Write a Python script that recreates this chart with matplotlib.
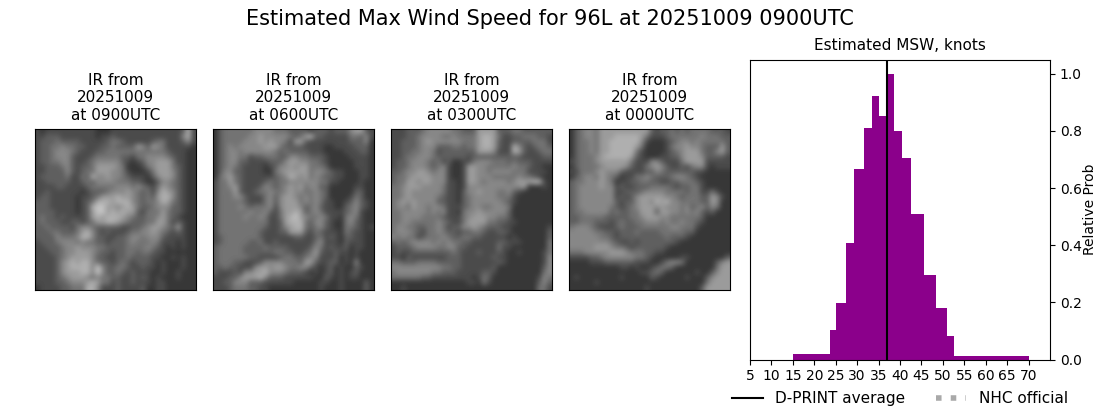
#! /usr/bin/env python

# estimated max wind speed histogram, next to four IR thumbnails

import numpy as np
import matplotlib
matplotlib.use('Agg')
import matplotlib.pyplot as plt

# IR brightness, one digit per cell (0 dark, 9 bright)
ir_0900 = [
    "2122 2222 2222 1112 2222 2222 2222 2372", "2233 3222 2222 1223 2222 2222 2222 2572",
    "2333 4333 3222 2234 4322 2223 4422 2352", "2334 4544 3322 2334 3333 6536 5422 2221",
    "2334 5554 3222 3344 4444 4444 4432 2211", "2334 5553 2223 4444 4332 4455 5543 2211",
    "2334 4553 2234 5555 5321 2355 6664 2211", "2233 3453 2334 6666 5411 1245 6664 3211",
    "2233 3353 2344 6665 5421 1124 6665 3211", "2333 3342 2437 5565 5432 2213 5665 3211",
    "2233 3332 2343 5555 4443 3211 3554 3211", "2222 3322 2234 4444 5554 5432 4654 3211",
    "2232 2222 2123 3345 5565 4342 5765 3211", "2332 2222 1223 4666 7665 4343 6775 3211",
    "3332 2222 1234 7776 7775 4344 5764 3211", "3332 2222 1237 8866 5676 4334 5553 3211",
    "3333 2222 1236 8867 6766 3244 4643 3211", "3433 2322 2236 7677 7654 3344 5643 2111",
    "3433 3223 3234 6677 6543 3344 6642 3211", "3343 3332 4554 3333 3223 3456 6543 6211",
    "3334 4333 4675 3232 2234 4556 5432 3211", "3333 5444 5775 3322 3345 5455 5322 2211",
    "2333 4555 4544 3323 3345 4445 4222 1211", "2233 3455 6555 4433 3344 4454 3212 1211",
    "2223 3455 6665 4332 3344 3443 2211 1111", "2222 3456 6665 3322 3343 3332 2112 1211",
    "2222 3567 6775 4332 3432 3332 1211 1211", "2222 3567 7775 8533 4432 2322 1211 1211",
    "2222 3566 6775 8533 4323 2221 1211 2111", "2222 3456 6654 5443 3223 2321 2111 2111",
    "2222 3345 5567 6442 3223 2221 2211 1111", "1222 2334 4477 5222 3222 2311 2211 1111"]
ir_0600 = [
    "1344 4444 5555 4443 3332 3332 3335 6632", "1344 4445 5655 5554 3467 3322 2224 4352",
    "1344 4455 5656 5542 6632 2222 2223 3351", "1345 4555 5566 6433 3322 2211 2222 3331",
    "1345 5455 5555 4343 3332 2211 1122 2331", "1345 5442 3344 4335 5443 3321 1112 2221",
    "1345 5332 2223 3356 6554 4321 1111 2221", "1345 4322 2212 3556 5664 4431 1111 2221",
    "1355 3322 2211 4566 6664 5543 2211 1221", "1456 4322 2222 3457 6564 5433 2211 1221",
    "2446 4322 2234 3445 5555 5442 2111 1211", "2445 6322 2354 3456 5645 5331 1111 2211",
    "2444 6322 3445 4456 5544 5431 1111 3311", "2444 5532 2245 3566 5454 5431 1112 4311",
    "2444 4432 2245 3566 6454 5422 1123 5321", "2444 4543 4445 2566 6534 5322 1134 5321",
    "2444 4445 4453 2466 7634 5422 2234 5211", "2444 4454 4542 2467 8654 4542 2145 4211",
    "2444 4444 4442 2367 7743 5532 1145 3211", "2444 4444 4432 2356 7743 4532 1144 3212",
    "2444 4444 4322 2336 6632 4322 2143 2211", "2344 4444 4322 2222 3322 3423 2133 2211",
    "2344 4443 3422 3222 2222 4522 2132 2211", "3444 4433 3343 3332 2223 5423 2231 2211",
    "3444 4433 3333 4433 2234 6322 3221 2111", "3444 4443 3222 2344 3345 5222 3121 2111",
    "3444 3322 2355 5544 4366 3223 3121 5111", "3343 3222 5665 6654 4553 2123 1211 3211",
    "3222 3255 6675 5543 3321 2123 1212 3111", "2223 3566 6753 3322 2222 1132 1212 2111",
    "2233 5553 3322 2222 1111 1221 1211 1131", "2223 4443 3221 1111 1111 1211 1211 1131"]
ir_0300 = [
    "2223 3345 5555 4433 3666 6333 4433 3333", "2223 3455 5544 5444 4677 6422 3344 4332",
    "2233 3456 5555 5544 4677 6322 3333 4442", "2233 3455 5333 4434 4677 6322 7532 3443",
    "2233 4455 4233 3333 3666 5222 7632 2344", "2234 4555 4333 3332 3333 3333 3322 2233",
    "2334 5554 3423 1122 4555 4443 4333 2222", "2334 5554 3452 1126 6554 4444 5443 2211",
    "3345 5665 4552 1126 6554 5555 4442 2221", "3445 6666 5552 1126 6555 4444 4544 3211",
    "3446 6566 5552 2126 6545 5554 5666 7721", "4456 6655 5542 2125 5555 5555 5561 1121",
    "4456 5555 5542 2135 5655 5445 3211 1111", "4456 5555 5432 2134 5555 5444 2111 1111",
    "4565 6555 5332 2134 5555 5543 2111 1111", "4554 6554 5542 2234 5544 5554 1111 1111",
    "4455 5554 5452 2145 5655 5553 1111 1111", "4455 5544 4432 2245 6665 5443 1111 1111",
    "4455 4444 4543 2246 6664 4332 2111 1111", "4554 4334 4542 3355 6543 3322 1111 1112",
    "4555 4324 4543 3233 4432 2332 1111 1113", "5454 4234 4454 3344 3322 2221 2111 1113",
    "3434 5555 4545 4433 2222 2332 2211 1114", "2333 4555 5445 5332 2222 2422 1111 1114",
    "2322 3333 3333 4322 2322 2321 1211 1124", "2213 2222 2223 3322 2222 3221 1111 1125",
    "4433 3444 4333 3322 2222 2321 1111 1125", "5555 5555 5544 3322 2222 3111 1111 1135",
    "4555 5555 4433 3222 2233 2111 1111 1145", "4444 4433 2222 2222 1243 1111 1111 1254",
    "1111 1111 1111 1112 2142 1111 1111 1353", "1121 1111 1111 1111 1111 1111 1111 1442"]
ir_0000 = [
    "1345 5466 6666 6666 3233 4343 4444 3332", "1345 5466 6777 7764 2223 4444 4454 4433",
    "1344 5466 7777 7752 1112 3455 4544 4443", "1344 5466 7777 7641 1112 4556 5543 3363",
    "1344 5466 7777 7421 1112 3456 6643 3563", "1344 4567 7777 6321 1122 3356 6653 3332",
    "2344 4566 6666 4222 5532 2246 6662 2222", "1344 4456 6665 3224 5653 2232 4552 1222",
    "2244 4565 5532 2223 3543 3333 3221 1111", "1345 5465 4312 2445 4333 4554 3211 1111",
    "3445 5565 4122 3344 3322 3344 4321 1111", "3455 5565 5232 2333 4444 3233 4421 1111",
    "3455 5555 5223 3345 5554 4443 4422 4211", "3455 5555 5232 3566 6665 5434 4433 6521",
    "3455 5555 5323 3566 5767 5544 4433 6511", "3455 5555 4323 4566 6565 5545 3453 5411",
    "3445 5555 3433 4466 6366 5545 4532 3111", "3344 4443 3333 4456 6655 4444 4431 1111",
    "3344 4333 2343 3445 5545 4454 4321 1111", "4555 4322 2343 3344 4444 5544 4211 1111",
    "5555 5443 3233 3433 3344 4443 3111 1111", "5555 5544 3233 3333 3334 3332 1111 1111",
    "5555 5555 4322 3233 3333 3211 1111 1111", "5555 5666 5443 2333 3332 1111 1111 1111",
    "4445 5555 6665 4443 3221 1111 1111 1111", "2222 3345 5555 5443 2111 1122 1111 1113",
    "1111 2223 3333 3222 1124 5541 1111 1356", "1111 1111 1122 1211 2344 3111 1111 1466",
    "1111 1111 1111 1122 3431 1111 1211 3566", "1211 1111 1121 1111 3211 1112 1113 5666",
    "1111 1211 1111 1111 1111 1111 1114 6666", "1111 1111 1111 1112 1111 1111 1136 6666"]

ir_images = [ir_0900, ir_0600, ir_0300, ir_0000]
ir_times = ['0900UTC', '0600UTC', '0300UTC', '0000UTC']

# histogram
bin_edges = [15, 23.6, 25, 27.3, 29.2, 31.5, 33.4, 35, 36.8, 38.5, 40.4, 42.5,
             45.5, 48.3, 50.9, 52.7, 70]
rel_prob = [0.019, 0.103, 0.197, 0.407, 0.667, 0.809, 0.921, 0.854, 1.0, 0.798,
            0.704, 0.508, 0.295, 0.179, 0.082, 0.012]
dprint_avg = 36.9

W, H = 1100., 409.

fig = plt.figure(figsize=(11, 4.09), dpi=100)
fig.suptitle('Estimated Max Wind Speed for 96L at 20251009 0900UTC',
             fontsize=15, x=0.5, y=0.977)

lefts = [35, 213, 391, 569]
for left, rows, tm in zip(lefts, ir_images, ir_times):
    ax = fig.add_axes([left / W, 1 - 290 / H, 161 / W, 161 / H])
    img = np.array([[35 + 20 * int(c) for c in r.replace(' ', '')] for r in rows])
    ax.imshow(img, cmap='gray', vmin=0, vmax=255, aspect='auto',
              interpolation='bicubic')
    ax.set_xticks([])
    ax.set_yticks([])
    ax.set_title('IR from\n20251009\nat ' + tm, fontsize=11, pad=6.7)

ax = fig.add_axes([750 / W, 1 - 359.5 / H, 300 / W, 300 / H])
ax.stairs(rel_prob, bin_edges, fill=True, color='darkmagenta')
ax.axvline(dprint_avg, color='k', lw=1.5, label='D-PRINT average')
ax.plot([], [], ':', color='darkgray', lw=4, label='NHC official')
ax.set_xlim(5, 75)
ax.set_ylim(0, 1.05)
ax.set_xticks(np.arange(5, 71, 5))
ax.yaxis.tick_right()
ax.yaxis.set_label_position('right')
ax.set_ylabel('Relative Prob', labelpad=1)
ax.set_title('Estimated MSW, knots', fontsize=11, pad=6.7)
ax.legend(loc='upper center', bbox_to_anchor=(0.5, -0.105), ncol=2, frameon=False,
          fontsize=11, borderpad=0, borderaxespad=0)

fig.savefig('out.png', dpi=100)
